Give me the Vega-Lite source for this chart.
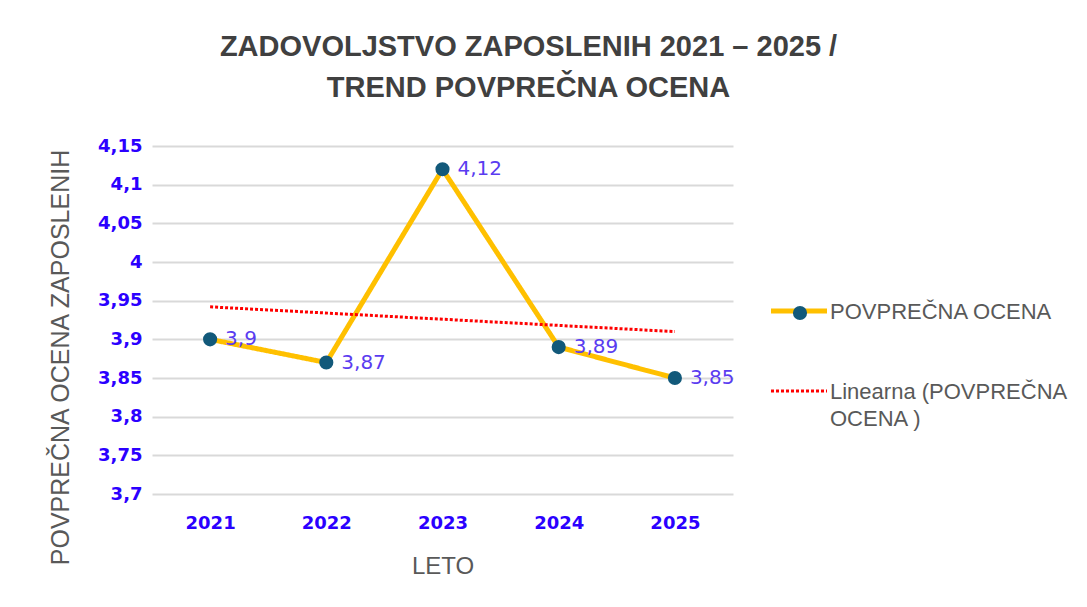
{
  "$schema": "https://vega.github.io/schema/vega-lite/v6.json",
  "width": 581,
  "height": 348,
  "autosize": {"type": "none"},
  "padding": {"left": 152, "top": 146, "right": 354, "bottom": 113},
  "background": "white",
  "config": {
    "view": {"stroke": null},
    "locale": {"number": {"decimal": ",", "thousands": ".", "grouping": [3], "currency": ["", " €"]}}
  },
  "title": {
    "text": ["ZADOVOLJSTVO ZAPOSLENIH 2021 – 2025 /", "TREND POVPREČNA OCENA"],
    "font": "Liberation Sans",
    "fontSize": 29,
    "fontWeight": "bold",
    "color": "#404040",
    "anchor": "middle",
    "frame": "group",
    "dx": 86,
    "offset": 34,
    "lineHeight": 41
  },
  "data": {
    "values": [
      {"leto": 2021, "ocena": 3.9},
      {"leto": 2022, "ocena": 3.87},
      {"leto": 2023, "ocena": 4.12},
      {"leto": 2024, "ocena": 3.89},
      {"leto": 2025, "ocena": 3.85}
    ]
  },
  "encoding": {
    "x": {
      "field": "leto",
      "type": "quantitative",
      "scale": {"domain": [2020.5, 2025.5], "nice": false, "zero": false},
      "axis": {
        "values": [2021, 2022, 2023, 2024, 2025],
        "format": "d",
        "labelFont": "DejaVu Sans",
        "labelFontWeight": "bold",
        "labelFontSize": 18,
        "labelColor": "#2b00ff",
        "labelPadding": 20,
        "domain": false,
        "ticks": false,
        "grid": false,
        "title": "LETO",
        "titleFont": "Liberation Sans",
        "titleFontSize": 24,
        "titleFontWeight": "normal",
        "titleColor": "#595959",
        "titlePadding": 22
      }
    },
    "y": {
      "field": "ocena",
      "type": "quantitative",
      "scale": {"domain": [3.7, 4.15], "nice": false, "zero": false},
      "axis": {
        "values": [3.7, 3.75, 3.8, 3.85, 3.9, 3.95, 4, 4.05, 4.1, 4.15],
        "format": "~g",
        "labelFont": "DejaVu Sans",
        "labelFontWeight": "bold",
        "labelFontSize": 18,
        "labelColor": "#2b00ff",
        "labelPadding": 10,
        "domain": false,
        "ticks": false,
        "grid": true,
        "gridColor": "#d9d9d9",
        "gridWidth": 2,
        "title": "POVPREČNA OCENA ZAPOSLENIH",
        "titleFont": "Liberation Sans",
        "titleFontSize": 25,
        "titleFontWeight": "normal",
        "titleColor": "#595959",
        "titleX": -92,
        "titleY": 211,
        "titleAngle": -90,
        "titleAlign": "center",
        "titleBaseline": "middle"
      }
    }
  },
  "layer": [
    {
      "mark": {"type": "line", "strokeWidth": 5},
      "encoding": {
        "color": {
          "datum": "POVPREČNA OCENA",
          "type": "nominal",
          "scale": {"domain": ["POVPREČNA OCENA", "Linearna (POVPREČNA OCENA )"], "range": ["#FFC000", "#FF0000"]},
          "legend": {
            "title": null,
            "orient": "none",
            "legendX": 636,
            "legendY": 154,
            "symbolType": "stroke",
            "symbolSize": 3136,
            "symbolStrokeWidth": 5,
            "symbolOpacity": 1,
            "labelFont": "Liberation Sans",
            "labelFontSize": 22,
            "labelColor": "#595959",
            "labelLimit": 400,
            "labelOffset": 20,
            "labelBaseline": "alphabetic",
            "rowPadding": 57,
            "labelExpr": "datum.label == 'POVPREČNA OCENA' ? datum.label : ['Linearna (POVPREČNA', 'OCENA )']",
            "encode": {
              "labels": {"update": {"dy": {"value": 8}, "lineHeight": {"value": 27}}},
              "symbols": {"update": {"strokeWidth": {"signal": "datum.value === 'POVPREČNA OCENA' ? 5 : 3"}}}
            }
          }
        },
        "strokeDash": {
          "datum": "POVPREČNA OCENA",
          "type": "nominal",
          "scale": {"domain": ["POVPREČNA OCENA", "Linearna (POVPREČNA OCENA )"], "range": [[1, 0], [3, 2]]},
          "legend": {
            "title": null,
            "orient": "none",
            "legendX": 636,
            "legendY": 154,
            "symbolType": "stroke",
            "symbolSize": 3136,
            "symbolStrokeWidth": 5,
            "symbolOpacity": 1,
            "labelFont": "Liberation Sans",
            "labelFontSize": 22,
            "labelColor": "#595959",
            "labelLimit": 400,
            "labelOffset": 20,
            "labelBaseline": "alphabetic",
            "rowPadding": 57,
            "labelExpr": "datum.label == 'POVPREČNA OCENA' ? datum.label : ['Linearna (POVPREČNA', 'OCENA )']",
            "encode": {
              "labels": {"update": {"dy": {"value": 8}, "lineHeight": {"value": 27}}},
              "symbols": {"update": {"strokeWidth": {"signal": "datum.value === 'POVPREČNA OCENA' ? 5 : 3"}}}
            }
          }
        }
      }
    },
    {
      "transform": [{"regression": "ocena", "on": "leto"}],
      "mark": {"type": "line", "strokeWidth": 3},
      "encoding": {
        "color": {"datum": "Linearna (POVPREČNA OCENA )", "type": "nominal"},
        "strokeDash": {"datum": "Linearna (POVPREČNA OCENA )", "type": "nominal"}
      }
    },
    {
      "mark": {"type": "point", "filled": true, "size": 200, "opacity": 1},
      "encoding": {
        "fill": {
          "datum": "POVPREČNA OCENA",
          "type": "nominal",
          "scale": {"range": ["#12597A"]},
          "legend": {
            "title": null,
            "orient": "none",
            "legendX": 640,
            "legendY": 159,
            "symbolType": "circle",
            "symbolSize": 200,
            "symbolOpacity": 1,
            "labelExpr": "''"
          }
        }
      }
    },
    {
      "mark": {"type": "text", "align": "left", "baseline": "middle", "dx": 15, "font": "DejaVu Sans", "fontSize": 20, "color": "#5a3cf0"},
      "encoding": {
        "text": {"field": "ocena", "type": "quantitative", "format": "~g"}
      }
    }
  ]
}
